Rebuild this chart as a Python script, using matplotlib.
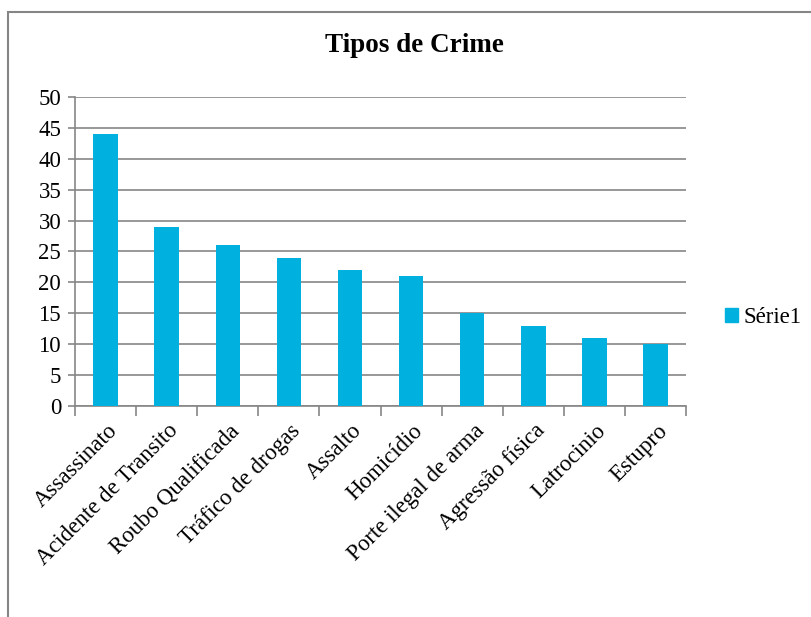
import matplotlib
matplotlib.use('Agg')
import matplotlib.pyplot as plt
from matplotlib.patches import Rectangle, Patch

plt.rcParams['font.family'] = ['Liberation Serif', 'DejaVu Serif']

# tipos de crime e quantidade de ocorrências
crimes = ['Assassinato', 'Acidente de Transito', 'Roubo Qualificada',
          'Tráfico de drogas', 'Assalto', 'Homicídio', 'Porte ilegal de arma',
          'Agressão física', 'Latrocinio', 'Estupro']
valores = [44, 29, 26, 24, 22, 21, 15, 13, 11, 10]
serie = 'Série1'
cor = '#00B0DE'
cinza = '#868686'

fig = plt.figure(figsize=(8.12, 6.17), dpi=100)
ax = fig.add_axes([0.0924, 0.342, 0.7525, 0.5008])

pos = list(range(len(crimes)))
ax.bar(pos, valores, width=0.4, color=cor, zorder=3)

ax.set_xlim(-0.5, len(crimes) - 0.5)
ax.set_ylim(0, 50)
ax.set_yticks(range(0, 51, 5))
ax.yaxis.grid(True, color=cinza, linewidth=1.2, zorder=0)

# ticks do eixo x nas divisões entre categorias
ax.set_xticks([p - 0.5 for p in pos] + [len(crimes) - 0.5])
ax.set_xticklabels([])
ax.tick_params(axis='x', length=7, color=cinza, width=1.2)
ax.tick_params(axis='y', length=5, color=cinza, width=1.2, labelsize=16.5, pad=5)

for p, nome in zip(pos, crimes):
    ax.text(p + 0.02, -2.3, nome, rotation=45, ha='right', va='top',
            rotation_mode='anchor', fontsize=16.5)

for lado in ['top', 'right']:
    ax.spines[lado].set_visible(False)
for lado in ['left', 'bottom']:
    ax.spines[lado].set_color(cinza)
    ax.spines[lado].set_linewidth(1.2)

fig.text(0.51, 1 - 45 / 617, 'Tipos de Crime', ha='center', va='center',
         fontsize=19.5, fontweight='bold')

fig.legend(handles=[Patch(color=cor, label=serie)], loc='center left',
           bbox_to_anchor=(0.893, 1 - 318 / 617), frameon=False,
           handlelength=0.55, handleheight=0.55, handletextpad=0.25, fontsize=16.5,
           borderaxespad=0, borderpad=0)

# moldura do gráfico
fig.patches.append(Rectangle((7.5 / 812, -0.1), 1.2, 1.1 - 12.5 / 617,
                             transform=fig.transFigure, fill=False,
                             edgecolor=cinza, linewidth=1.5))

fig.savefig('out.png', dpi=100)
